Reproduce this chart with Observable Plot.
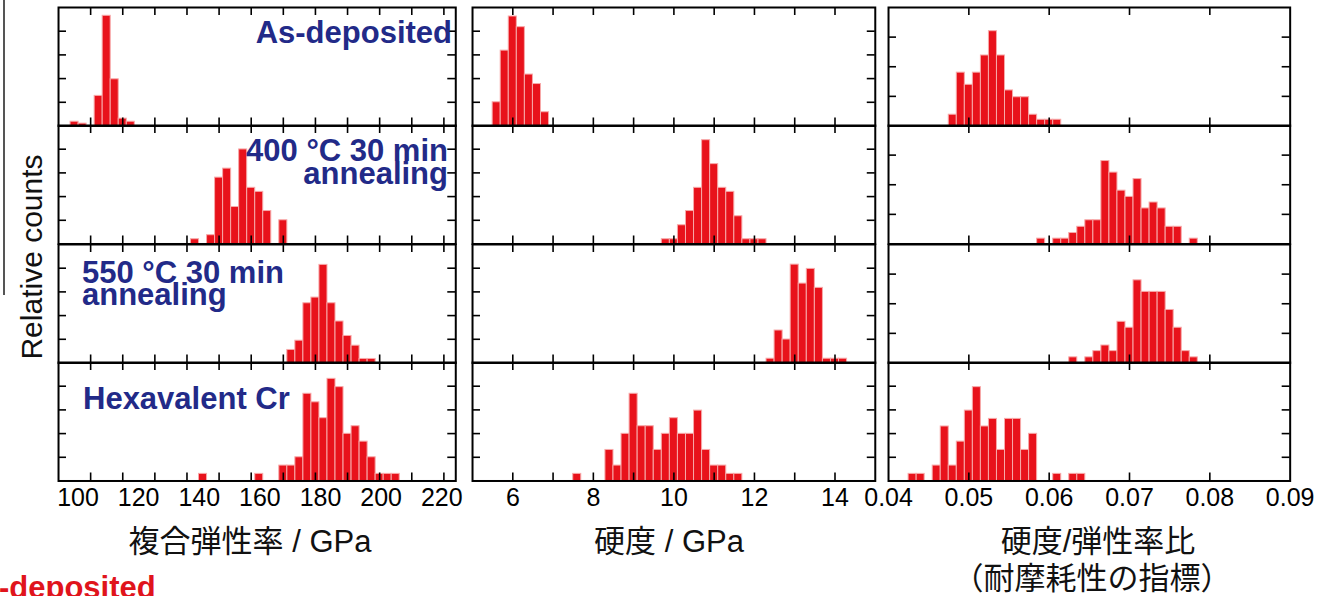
<!DOCTYPE html>
<html><head><meta charset="utf-8">
<script src="https://cdn.jsdelivr.net/npm/d3@7"></script>
<script src="https://cdn.jsdelivr.net/npm/@observablehq/plot@0.6"></script>
<style>
html,body{margin:0;padding:0;background:#fff;}
#root{position:relative;width:1333px;height:596px;overflow:hidden;font-family:"Liberation Sans",Arial,"Noto Sans CJK JP",sans-serif;}
.panel{position:absolute;}
#overlay{position:absolute;left:0;top:0;}
</style></head>
<body><div id="root"></div>
<script>
// ---------- data (bin centre, relative count in y-tick units) ----------
const rowNames = ["As-deposited", "400 °C 30 min annealing", "550 °C 30 min annealing", "Hexavalent Cr"];
const colTitles = ["複合弾性率 / GPa", "硬度 / GPa", "硬度/弾性率比", "（耐摩耗性の指標）"];

const modulusAsDep = [[105,0.18],[107.5,0.10],[112.5,1.27],[115,4.65],[117.5,1.97],[120,0.31],[122.5,0.18]];
const modulus400 = [[142.5,0.20],[147.5,0.37],[150,2.80],[152.5,3.18],[155,1.56],[157.5,3.99],[160,2.37],[162.5,2.20],[165,1.39],[170,1.0]];
const modulus550 = [[172.5,0.55],[175,0.94],[177.5,2.52],[180,2.76],[182.5,4.14],[185,2.52],[187.5,1.75],[190,1.14],[192.5,0.73],[195,0.17],[197.5,0.17]];
const modulusCr = [[145,0.30],[162.5,0.30],[170,0.65],[172.5,0.65],[175,1.0],[177.5,3.68],[180,3.32],[182.5,2.65],[185,4.31],[187.5,3.96],[190,1.99],[192.5,2.31],[195,1.66],[197.5,1.0],[200,0.30],[202.5,0.30],[205,0.30]];

const hardnessAsDep = [[5.6,1.0],[5.8,3.18],[6.0,4.62],[6.2,4.17],[6.4,2.17],[6.6,1.77],[6.8,0.58]];
const hardness400 = [[9.8,0.2],[10.0,0.2],[10.2,0.79],[10.4,1.39],[10.6,2.37],[10.8,4.38],[11.0,3.37],[11.2,2.37],[11.4,2.20],[11.6,1.17],[11.8,0.2],[12.0,0.2],[12.2,0.2]];
const hardness550 = [[12.4,0.18],[12.6,1.37],[12.8,0.99],[13.0,4.15],[13.2,3.35],[13.4,3.97],[13.6,3.17],[13.8,0.18],[14.0,0.18],[14.2,0.18]];
const hardnessCr = [[7.6,0.30],[8.4,1.31],[8.6,0.65],[8.8,1.99],[9.0,3.68],[9.2,2.31],[9.4,2.31],[9.6,1.31],[9.8,1.99],[10.0,2.65],[10.2,1.99],[10.4,1.99],[10.6,2.97],[10.8,1.31],[11.0,0.65],[11.2,0.65],[11.4,0.30],[11.6,0.30]];

const ratioAsDep = [[0.048,0.38],[0.049,1.80],[0.050,1.39],[0.051,1.80],[0.052,2.38],[0.053,3.20],[0.054,2.38],[0.055,1.20],[0.056,0.97],[0.057,0.97],[0.058,0.38],[0.059,0.21],[0.060,0.21],[0.061,0.21]];
const ratio400 = [[0.059,0.18],[0.061,0.18],[0.062,0.18],[0.063,0.37],[0.064,0.58],[0.065,0.80],[0.066,0.80],[0.067,2.80],[0.068,2.41],[0.069,1.80],[0.070,1.59],[0.071,2.19],[0.072,1.20],[0.073,1.40],[0.074,1.20],[0.075,0.58],[0.076,0.58],[0.078,0.18]];
const ratio550 = [[0.063,0.19],[0.065,0.19],[0.066,0.40],[0.067,0.59],[0.068,0.40],[0.069,1.39],[0.070,1.19],[0.071,2.79],[0.072,2.40],[0.073,2.40],[0.074,2.40],[0.075,1.79],[0.076,1.19],[0.077,0.40],[0.078,0.19]];
const ratioCr = [[0.043,0.30],[0.044,0.30],[0.046,0.65],[0.047,2.30],[0.048,0.65],[0.049,1.66],[0.050,2.97],[0.051,3.96],[0.052,2.30],[0.053,2.62],[0.054,1.31],[0.055,2.62],[0.056,2.62],[0.057,1.31],[0.058,1.99],[0.061,0.30],[0.063,0.30],[0.064,0.30]];

const binWidths = [2.5, 0.2, 0.001];
const xDomains = [[100, 223.7], [5, 15], [0.04, 0.09]];
// the printed tick-label row of the first column is slightly compressed in the original figure
const labelDomains = [[93.6, 224.6], [5, 15], [0.04, 0.09]];
const xTickMarks = [[110,120,130,140,150,160,170,180,190,200,210,220], [6,7,8,9,10,11,12,13,14], [0.05,0.06,0.07,0.08]];
const xTickLabels = [[100,120,140,160,180,200,220], [6,8,10,12,14], [0.04,0.05,0.06,0.07,0.08,0.09]];
const yIntervals = [[5,5,4],[5,5,4],[5,5,4],[5,5,5]];

const grid = [
  [modulusAsDep, hardnessAsDep, ratioAsDep],
  [modulus400, hardness400, ratio400],
  [modulus550, hardness550, ratio550],
  [modulusCr, hardnessCr, ratioCr]
];

// ---------- layout ----------
const colLeft = [57.7, 471.7, 888.3];
const colRight = [455, 874.5, 1290];
const rowTop = [6.7, 125.2, 243.7, 362.2];
const rowH = 118.5;
const tickLen = 8;
const barFill = "#e8121b", barStroke = "#f7a9a9";
const fmts = [d3.format("d"), d3.format("d"), d3.format(".2f")];
const root = document.getElementById("root");
const plotStyle = {background: "transparent", overflow: "visible", maxWidth: "none", fontFamily: "Liberation Sans, Arial, sans-serif", fontSize: "25px", color: "#000"};

function place(svg, left, top, w) {
  const div = document.createElement("div");
  div.className = "panel";
  div.style.left = left + "px";
  div.style.top = top + "px";
  div.style.width = w + "px";
  div.appendChild(svg);
  root.appendChild(div);
}

grid.forEach((rowData, r) => {
  rowData.forEach((data, c) => {
    const w = colRight[c] - colLeft[c];
    const n = yIntervals[r][c];
    const bw = binWidths[c];
    const svg = Plot.plot({
      width: w, height: rowH,
      marginTop: 0, marginLeft: 0, marginRight: 0, marginBottom: 0,
      x: {domain: xDomains[c], axis: null},
      y: {domain: [0, n], axis: null},
      style: plotStyle,
      marks: [
        Plot.rect(data, {x1: d => d[0] - bw / 2, x2: d => d[0] + bw / 2, y1: 0, y2: d => d[1], fill: barFill, stroke: barStroke, strokeWidth: 1}),
        Plot.ruleX(xTickMarks[c], {x: d => d, insetTop: rowH - tickLen, stroke: "#000", strokeWidth: 1.6}),
        Plot.ruleX(xTickMarks[c], {x: d => d, insetBottom: rowH - tickLen, stroke: "#000", strokeWidth: 1.6}),
        Plot.ruleY(d3.range(1, n), {y: d => d, insetRight: w - tickLen, stroke: "#000", strokeWidth: 1.6}),
        Plot.ruleY(d3.range(1, n), {y: d => d, insetLeft: w - tickLen, stroke: "#000", strokeWidth: 1.6}),
        Plot.frame({stroke: "#000", strokeWidth: 2})
      ]
    });
    place(svg, colLeft[c], rowTop[r], w);
  });
});

// tick-label rows under the bottom panels
const labelTop = rowTop[3] + rowH;
[0, 1, 2].forEach(c => {
  const w = colRight[c] - colLeft[c];
  const svg = Plot.plot({
    width: w, height: 40,
    marginTop: 0, marginLeft: 0, marginRight: 0, marginBottom: 40,
    x: {domain: labelDomains[c]},
    style: plotStyle,
    marks: [Plot.axisX(xTickLabels[c], {tickSize: 0, tickPadding: 7, tickFormat: fmts[c], label: null, fontSize: 25, fill: "#000"})]
  });
  place(svg, colLeft[c], labelTop, w);
});

// ---------- overlay texts ----------
const ov = d3.create("svg").attr("id", "overlay").attr("width", 1333).attr("height", 596)
  .style("font-family", "Liberation Sans, Arial, Noto Sans CJK JP, sans-serif");
ov.append("line").attr("x1", 4).attr("x2", 4).attr("y1", 0).attr("y2", 295).attr("stroke", "#555").attr("stroke-width", 2);

const navy = "#222a88";
const labelSpecs = [
  {lines: ["As-deposited"], x: 452, y: [43], anchor: "end"},
  {lines: ["400 °C 30 min", "annealing"], x: 448, y: [161, 184], anchor: "end"},
  {lines: ["550 °C 30 min", "annealing"], x: 82, y: [283, 305], anchor: "start"},
  {lines: ["Hexavalent Cr"], x: 83, y: [409], anchor: "start"}
];
labelSpecs.forEach(s => {
  s.lines.forEach((t, i) => {
    ov.append("text").attr("x", s.x).attr("y", s.y[i]).attr("text-anchor", s.anchor)
      .attr("font-size", 31).attr("font-weight", "bold").attr("fill", navy).text(t);
  });
});

const titleFont = "Liberation Sans, Noto Sans CJK JP, sans-serif";
[[colTitles[0], 250, 552], [colTitles[1], 669, 552], [colTitles[2], 1098, 552], [colTitles[3], 1092, 589]].forEach(([t, x, y]) => {
  ov.append("text").attr("x", x).attr("y", y).attr("text-anchor", "middle").attr("font-size", 31)
    .attr("font-family", titleFont).attr("fill", "#111").text(t);
});
ov.append("text").attr("transform", "translate(31,257) rotate(-90)").attr("text-anchor", "middle")
  .attr("dominant-baseline", "central").attr("font-size", 30).attr("fill", "#111").text("Relative counts");
ov.append("text").attr("x", -1).attr("y", 598).attr("font-size", 31).attr("font-weight", "bold")
  .attr("fill", "#e0141c").text("-deposited");

root.appendChild(ov.node());
</script>
</body></html>
